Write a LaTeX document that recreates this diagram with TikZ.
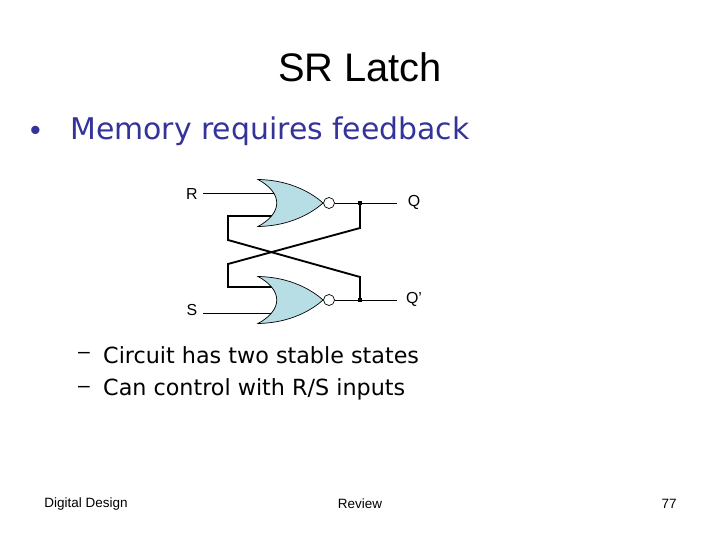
\documentclass[tikz,border=0pt]{standalone}
\usepackage{fontspec}
\setmainfont{Liberation Sans}
\newfontfamily\comicish{DejaVu Sans}
\definecolor{gatefill}{RGB}{183,222,228}
\definecolor{bul}{RGB}{51,51,153}
\begin{document}
\begin{tikzpicture}[x=0.03cm,y=-0.03cm,
  wire/.style={line width=0.8pt},
  thick wire/.style={line width=1.6pt},
  gate/.style={draw,fill=gatefill,line width=0.6pt},
  dotsq/.style={fill,minimum size=4pt,inner sep=0pt},
  lbl/.style={font=\fontsize{13.6}{15}\selectfont,anchor=center},
  foot/.style={font=\fontsize{11.5}{13}\selectfont,anchor=center}]
\useasboundingbox (0,0) rectangle (720,540);
\node (title) at (360,67) {\fontsize{34}{38}\selectfont SR Latch};
\node[anchor=west,text=bul,inner sep=0pt] (b0) at (30,133) {\fontsize{26}{30}\selectfont •};
\node[anchor=west,text=bul,inner sep=0pt] (b1) at (70,131) {\comicish\fontsize{25.5}{30}\selectfont Memory requires feedback};
\node[anchor=west,inner sep=0pt] (s0) at (78,355) {\fontsize{18}{20}\selectfont –};
\node[anchor=west,inner sep=0pt] (s1) at (103,355) {\comicish\fontsize{19}{22}\selectfont Circuit has two stable states};
\node[anchor=west,inner sep=0pt] (t0) at (78,389) {\fontsize{18}{20}\selectfont –};
\node[anchor=west,inner sep=0pt] (s2) at (103,389) {\comicish\fontsize{19}{22}\selectfont Can control with R/S inputs};
\node[foot] (f1) at (86,504) {Digital Design};
\node[foot] (f2) at (360,504) {Review};
\node[foot] (f3) at (669,504) {77};
\coordinate (qd) at (360,203);
\coordinate (qpd) at (360,300);
\coordinate (qe) at (397,203);
\coordinate (qpe) at (397,300);
\coordinate (rs) at (203,193); \coordinate (re) at (275,193);
\coordinate (ss) at (203,313); \coordinate (se) at (275,313);
\draw[wire] (rs) -- (re);
\draw[wire] (ss) -- (se);
\draw[thick wire] (276,216) -- (228,216) -- (228,240) -- (360,277) -- (qpd);
\draw[thick wire] (qd) -- (360,228) -- (228,264) -- (228,287) -- (276,287);
% gates
\foreach \y/\n in {203/g1,300/g2}{
  \draw[gate] (258,\y-23.5) .. controls (290,\y-23) and (312,\y-10) .. (323,\y)
     .. controls (312,\y+10) and (290,\y+23) .. (258,\y+23.5)
     .. controls (283,\y+10) and (283,\y-10) .. (258,\y-23.5) -- cycle;
  \draw[line width=0.6pt,fill=white] (329,\y) circle (5.5);
  \coordinate (\n out) at (334.5,\y);
}
\draw[wire] (g1out) -- (qe);
\draw[wire] (g2out) -- (qpe);
\node[dotsq] (dq) at (qd) {};
\node[dotsq] (dqp) at (qpd) {};
\node[lbl] (R) at (192,194) {R};
\node[lbl] (S) at (192,310) {S};
\node[lbl] (Q) at (414,202) {Q};
\node[lbl] (Qp) at (414,299) {Q’};
\end{tikzpicture}
\end{document}
